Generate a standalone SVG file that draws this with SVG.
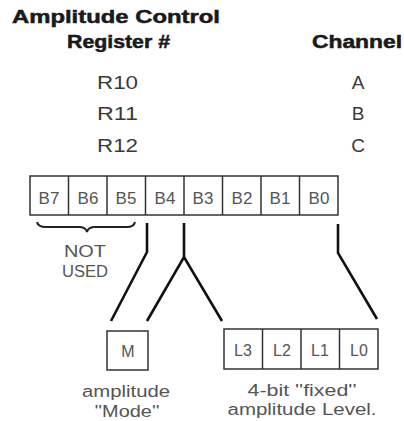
<svg xmlns="http://www.w3.org/2000/svg" width="404" height="421" viewBox="0 0 404 421">
<style>
.hd{font-family:"Liberation Sans",Arial,sans-serif;font-weight:bold;font-size:18px;fill:#1a1a1a;stroke:#1a1a1a;stroke-width:0.5}
.rg{font-family:"Liberation Sans",Arial,sans-serif;font-size:19px;fill:#3a3a3a}
.cl{font-family:"Liberation Sans",Arial,sans-serif;font-size:17px;fill:#555;text-anchor:middle}
.lb{font-family:"Liberation Sans",Arial,sans-serif;font-size:16px;fill:#555;text-anchor:middle}
.box{fill:#fff;stroke:#333;stroke-width:1.5}
.dv{stroke:#333;stroke-width:1.5}
.cn{fill:none;stroke:#111;stroke-width:2.6;stroke-linejoin:miter}
</style>
<rect width="404" height="421" fill="#fff"/>
<g id="header">
<text class="hd" x="12" y="23" textLength="208" lengthAdjust="spacingAndGlyphs">Amplitude Control</text>
<text class="hd" x="67" y="48" textLength="103" lengthAdjust="spacingAndGlyphs">Register #</text>
<text class="hd" x="312" y="48" textLength="90" lengthAdjust="spacingAndGlyphs">Channel</text>
</g>
<g id="registers">
<text class="rg" x="97" y="89" textLength="41" lengthAdjust="spacingAndGlyphs">R10</text>
<text class="rg" x="97" y="120" textLength="41" lengthAdjust="spacingAndGlyphs">R11</text>
<text class="rg" x="97" y="152" textLength="41" lengthAdjust="spacingAndGlyphs">R12</text>
<text class="rg" x="358" y="89" text-anchor="middle">A</text>
<text class="rg" x="358" y="120" text-anchor="middle">B</text>
<text class="rg" x="358" y="152" text-anchor="middle">C</text>
</g>
<g id="register-byte">
<rect class="box" x="30" y="176" width="308" height="39"/>
<line class="dv" x1="68.5" y1="176" x2="68.5" y2="215"/>
<line class="dv" x1="107" y1="176" x2="107" y2="215"/>
<line class="dv" x1="145.5" y1="176" x2="145.5" y2="215"/>
<line class="dv" x1="184" y1="176" x2="184" y2="215"/>
<line class="dv" x1="222.5" y1="176" x2="222.5" y2="215"/>
<line class="dv" x1="261" y1="176" x2="261" y2="215"/>
<line class="dv" x1="299.5" y1="176" x2="299.5" y2="215"/>
<text class="cl" x="49" y="204">B7</text>
<text class="cl" x="88" y="204">B6</text>
<text class="cl" x="126" y="204">B5</text>
<text class="cl" x="165" y="204">B4</text>
<text class="cl" x="203" y="204">B3</text>
<text class="cl" x="242" y="204">B2</text>
<text class="cl" x="280" y="204">B1</text>
<text class="cl" x="319" y="204">B0</text>
</g>
<g id="not-used">
<path d="M37,222 Q38,227 46,227 L80,227 Q86,227.5 87,232 Q88,227.5 94,227 L127,227 Q134,227 135,222" fill="none" stroke="#222" stroke-width="2"/>
<text class="lb" x="85" y="257" textLength="42" lengthAdjust="spacingAndGlyphs">NOT</text>
<text class="lb" x="85" y="277" textLength="46" lengthAdjust="spacingAndGlyphs">USED</text>
</g>
<g id="connectors">
<polyline class="cn" points="147,223 147,252 111,321"/>
<polyline class="cn" points="147,321 184,257 222,321"/>
<line class="cn" x1="184" y1="223" x2="184" y2="257"/>
<polyline class="cn" points="338,224 338,253 377,319"/>
</g>
<g id="mode-box">
<rect class="box" x="107" y="331" width="41" height="39"/>
<text class="lb" x="128" y="357">M</text>
<text class="lb" x="126" y="397" textLength="88" lengthAdjust="spacingAndGlyphs">amplitude</text>
<text class="lb" x="127" y="417" textLength="65" lengthAdjust="spacingAndGlyphs">''Mode''</text>
</g>
<g id="level-box">
<rect class="box" x="224" y="329" width="154" height="40"/>
<line class="dv" x1="262.5" y1="329" x2="262.5" y2="369"/>
<line class="dv" x1="301" y1="329" x2="301" y2="369"/>
<line class="dv" x1="339.5" y1="329" x2="339.5" y2="369"/>
<text class="lb" x="243" y="356">L3</text>
<text class="lb" x="282" y="356">L2</text>
<text class="lb" x="320" y="356">L1</text>
<text class="lb" x="359" y="356">L0</text>
<text class="lb" x="302" y="396" textLength="109" lengthAdjust="spacingAndGlyphs">4-bit ''fixed''</text>
<text class="lb" x="302" y="415" textLength="149" lengthAdjust="spacingAndGlyphs">amplitude Level.</text>
</g>
</svg>
